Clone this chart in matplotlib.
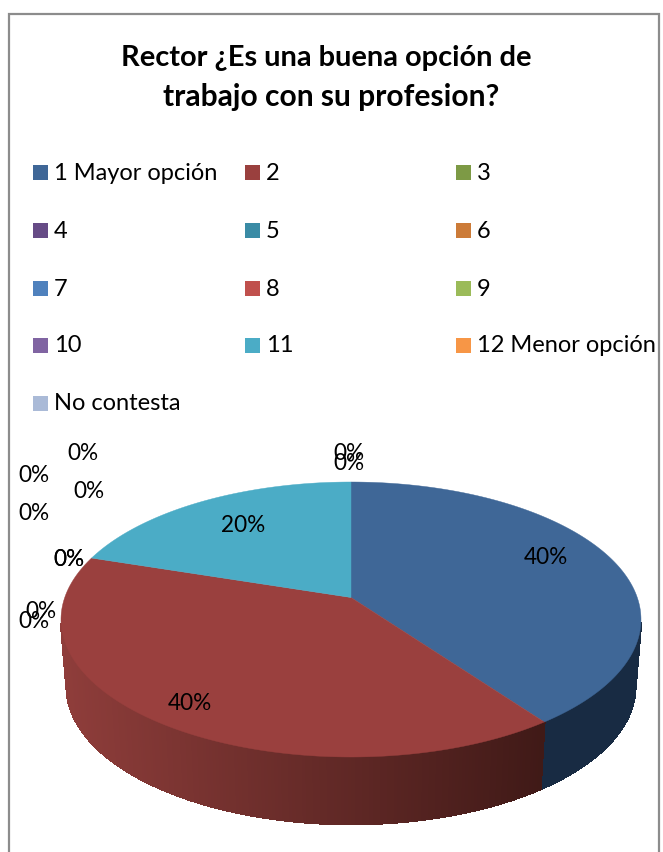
import matplotlib
matplotlib.use('Agg')
import matplotlib.pyplot as plt
import numpy as np

plt.rcParams['font.family'] = ['Lato', 'DejaVu Sans']

title_lines = ["Rector ¿Es una buena opción de", "trabajo con su profesion?"]
categories = ["1 Mayor opción", "2", "3", "4", "5", "6", "7", "8", "9", "10", "11",
              "12 Menor opción", "No contesta"]
values = [40, 40, 0, 0, 0, 0, 0, 0, 0, 0, 20, 0, 0]
colors = ["#3f6797", "#9a403e", "#7d9a45", "#664b86", "#3a8ba5", "#cc7b38", "#4f81bd",
          "#c0504d", "#9bbb59", "#8064a2", "#4bacc6", "#f79646", "#aabad7"]

# where the labels sit, in picture pixels
label_xy = [(546, 558), (190, 703), (349, 453), (349, 464), (83, 454), (34, 476), (89, 491),
            (34, 513), (69, 560), (69, 560), (243, 525), (41, 612), (34, 622)]

fig = plt.figure(figsize=(6.63, 8.52), dpi=100)
ax = fig.add_axes([0, 0, 1, 1])
ax.set_xlim(0, 663)
ax.set_ylim(852, 0)
ax.axis('off')

# chart border, the bottom edge is cut off
ax.plot([8.5, 8.5, 658.5, 658.5], [852, 13.5, 13.5, 852], color="#8c8c8c", lw=1.6,
        solid_joinstyle='miter')

ax.text(326, 58, title_lines[0], ha='center', va='center', fontsize=20.9, fontweight='bold')
ax.text(331, 97, title_lines[1], ha='center', va='center', fontsize=21.6, fontweight='bold')

# legend
col_x = [33, 245, 456]
row_y = [172, 230, 288, 345, 403]
for i, (name, c) in enumerate(zip(categories, colors)):
    x = col_x[i % 3]
    y = row_y[i // 3]
    ax.fill([x, x + 15, x + 15, x], [y - 7.5, y - 7.5, y + 7.5, y + 7.5], color=c, lw=0)
    ax.text(x + 21, y + 1, name, ha='left', va='center', fontsize=17, color="black")

# pie in perspective
cx, cy, rx, ry = 351, 619.5, 290, 137.5
persp = -0.16
depth = 67
shrink = 0.98


def project(theta):
    # theta is clockwise from the top, circle goes through a projective map
    u = np.sin(theta)
    v = -np.cos(theta)
    d = 1 + persp * v
    return cx + rx * u * np.sqrt(1 - persp ** 2) / d, cy + ry * (v + persp) / d


apex = cx, cy + ry * persp
cum = np.cumsum([0] + values) / sum(values) * 2 * np.pi


def wall_color(i, x):
    if i == 0:
        return "#182b43"
    # red side gets darker to the right
    t = np.clip((x - 60) / (545 - 60), 0, 1)
    c0 = np.array([0.56, 0.24, 0.23])
    c1 = np.array([0.25, 0.10, 0.09])
    return tuple(c0 + (c1 - c0) * t)


# side walls first, only the front part shows
for i, v in enumerate(values):
    if v == 0:
        continue
    th = np.linspace(cum[i], cum[i + 1], 240)
    xs, ys = project(th)
    xb = cx + (xs - cx) * shrink
    yb = ys + depth
    for k in range(len(th) - 1):
        if ys[k] < cy + 3 or ys[k + 1] < cy + 3:
            continue
        ax.fill([xs[k], xs[k + 1], xb[k + 1], xb[k]], [ys[k], ys[k + 1], yb[k + 1], yb[k]],
                color=wall_color(i, xs[k]), lw=1.2, antialiased=False, zorder=2)

# top faces
for i, v in enumerate(values):
    if v == 0:
        continue
    th = np.linspace(cum[i], cum[i + 1], 300)
    xs, ys = project(th)
    ax.fill(np.r_[apex[0], xs], np.r_[apex[1], ys], color=colors[i], lw=0.3, zorder=3)

for v, (x, y) in zip(values, label_xy):
    ax.text(x, y, f"{v}%", ha='center', va='center', fontsize=16.3, color="black", zorder=5)

fig.savefig("out.png", dpi=100)
